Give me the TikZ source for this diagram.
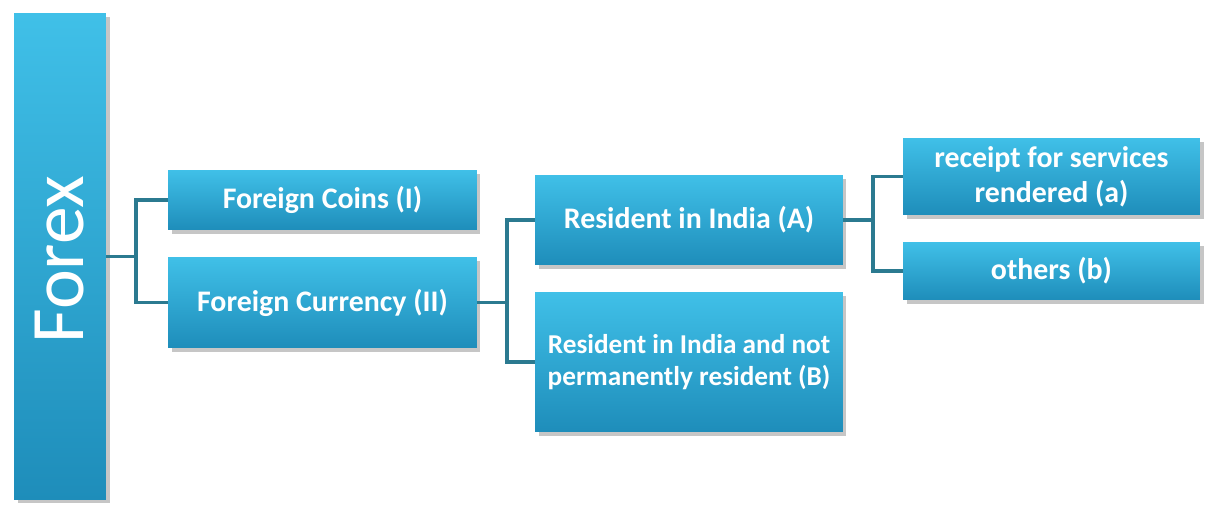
\documentclass[tikz,border=0pt]{standalone}
\usepackage{fontspec}
\setmainfont{Carlito}
\usepackage{xcolor}
\usetikzlibrary{shadows,calc}
\definecolor{boxtop}{HTML}{40C0E8}
\definecolor{boxbot}{HTML}{1E8DBA}
\definecolor{wire}{HTML}{2B7A90}

\begin{document}
\begin{tikzpicture}[x=0.02cm, y=-0.02cm,
  box/.style={draw=none, top color=boxtop, bottom color=boxbot, text=white,
    align=center, font=\bfseries\fontsize{17}{20}\selectfont, inner sep=2pt,
    drop shadow={opacity=0.45, shadow xshift=2pt, shadow yshift=-2pt}},
  wire/.style={draw=wire, line width=2.1pt}
]
\useasboundingbox (0,0) rectangle (1210,506);
\node[box, minimum width=1.84cm, minimum height=9.74cm] (forex) at (60,256.5) {};
\node[text=white, rotate=90, font=\fontsize{43}{50}\selectfont] at ($(forex.center)+(0,3)$) {Forex};
\node[box, minimum width=6.18cm, minimum height=1.2cm] (coins) at (322.5,200) {Foreign Coins (I)};
\node[box, minimum width=6.18cm, minimum height=1.82cm] (currency) at (322.5,302.5) {Foreign Currency (II)};
\node[box, minimum width=6.16cm, minimum height=1.8cm] (resA) at (689,220) {Resident in India (A)};
\node[box, minimum width=6.16cm, minimum height=2.8cm, font=\bfseries\fontsize{15.5}{18}\selectfont] (resB) at (689,362) {Resident in India and not\\permanently resident (B)};
\node[box, minimum width=5.94cm, minimum height=1.54cm] (receipt) at (1051.5,176.5) {receipt for services\\rendered (a)};
\node[box, minimum width=5.94cm, minimum height=1.16cm] (others) at (1051.5,271) {others (b)};
% connectors
\draw[wire] (forex.east) -- ++(30,0) |- (coins.west);
\draw[wire] (forex.east) -- ++(30,0) |- (currency.west);
\draw[wire] (currency.east) -- ++(30,0) |- (resA.west);
\draw[wire] (currency.east) -- ++(30,0) |- (resB.west);
\draw[wire] (resA.east) -- ++(30,0) |- (receipt.west);
\draw[wire] (resA.east) -- ++(30,0) |- (others.west);
\end{tikzpicture}
\end{document}
